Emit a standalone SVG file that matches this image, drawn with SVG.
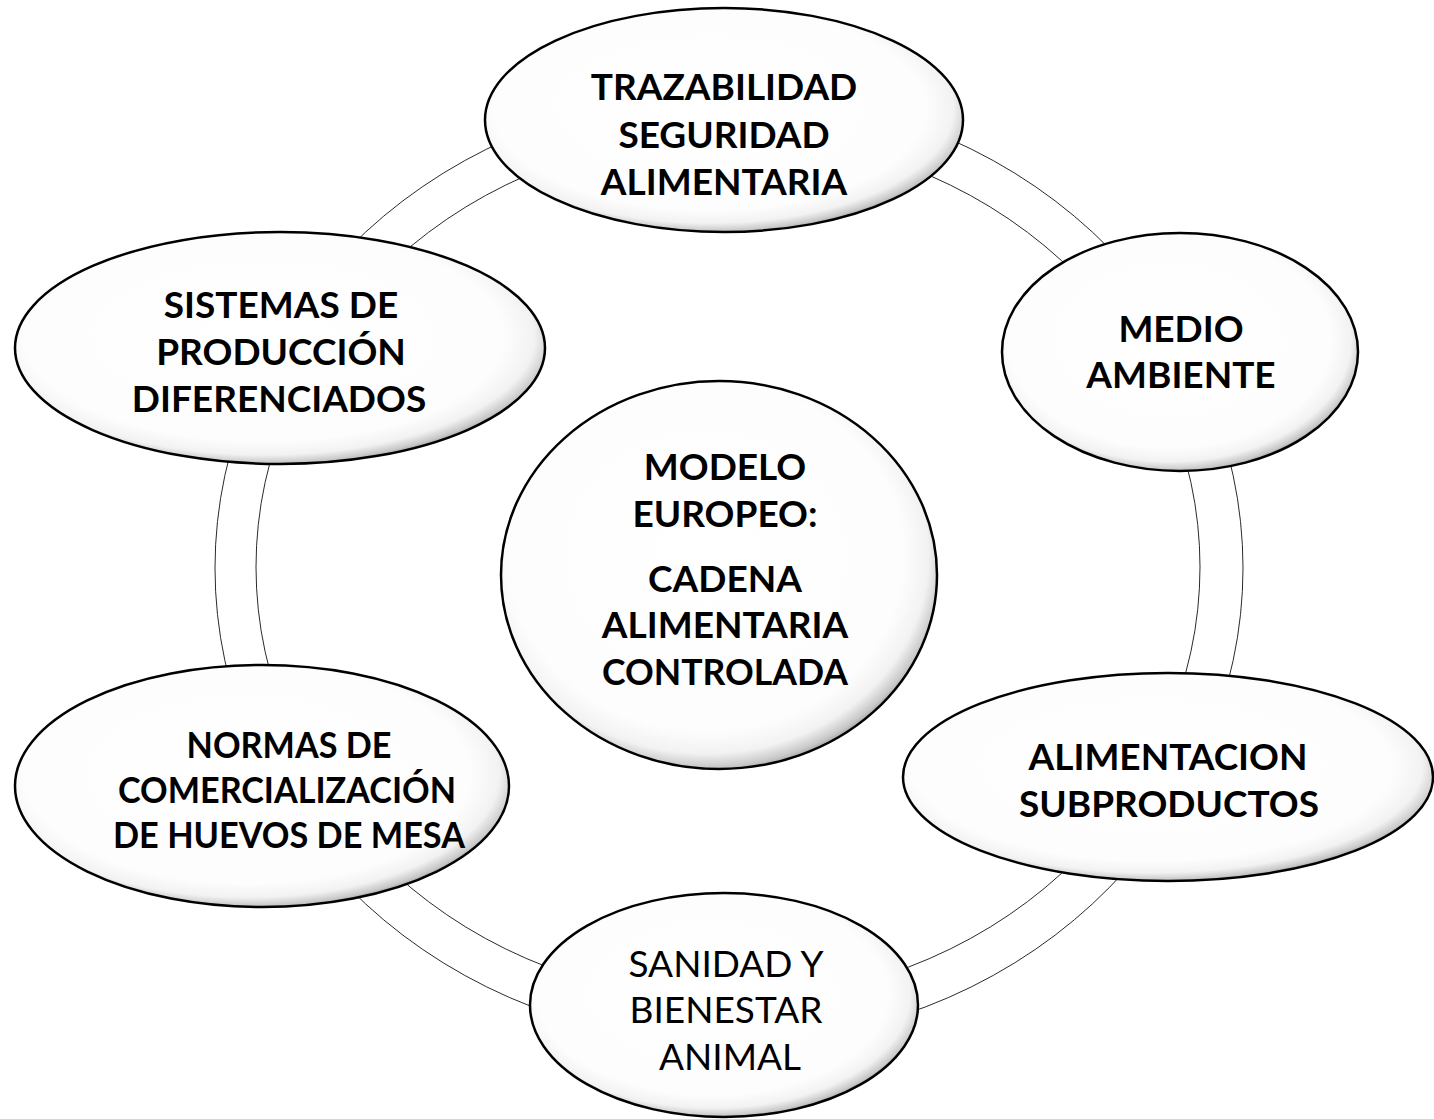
<svg xmlns="http://www.w3.org/2000/svg" width="1434" height="1119" viewBox="0 0 1434 1119">
<style>
.ring{fill:none;stroke:#2a2a2a;stroke-width:1}
.node{fill:url(#shade);stroke:#000;stroke-width:2.5}
.lb{font-family:Lato,"Liberation Sans",sans-serif;font-weight:bold;font-size:37px;text-anchor:middle;fill:#000}
.lr{font-family:Lato,"Liberation Sans",sans-serif;font-weight:normal;font-size:37px;text-anchor:middle;fill:#000}
</style>
<defs>
<radialGradient id="shade" cx="0.47" cy="0.45" r="0.58" fx="0.47" fy="0.45">
<stop offset="0" stop-color="#ffffff"/>
<stop offset="0.78" stop-color="#fdfdfd"/>
<stop offset="0.88" stop-color="#f2f2f2"/>
<stop offset="0.94" stop-color="#c8c8c8"/>
<stop offset="1" stop-color="#707070"/>
</radialGradient>
</defs>
<rect width="1434" height="1119" fill="#fff"/>
<g id="connectors">
<ellipse class="ring" cx="729" cy="568" rx="514" ry="475"/>
<ellipse class="ring" cx="728" cy="567" rx="472" ry="433"/>
</g>
<g id="n1"><ellipse class="node" cx="724" cy="120" rx="239" ry="112"/>
<text class="lb" x="724" y="100">TRAZABILIDAD</text>
<text class="lb" x="724" y="148">SEGURIDAD</text>
<text class="lb" x="724" y="195">ALIMENTARIA</text></g>
<g id="n2"><ellipse class="node" cx="280" cy="348" rx="265" ry="116"/>
<text class="lb" x="281" y="318">SISTEMAS DE</text>
<text class="lb" x="281" y="365">PRODUCCIÓN</text>
<text class="lb" x="279" y="412">DIFERENCIADOS</text></g>
<g id="n3"><ellipse class="node" cx="1180" cy="352" rx="178" ry="119"/>
<text class="lb" x="1181" y="342">MEDIO</text>
<text class="lb" x="1181" y="388">AMBIENTE</text></g>
<g id="n4"><ellipse class="node" cx="719" cy="575" rx="218" ry="194"/>
<text class="lb" x="725" y="480">MODELO</text>
<text class="lb" x="725" y="527">EUROPEO:</text>
<text class="lb" x="725" y="592">CADENA</text>
<text class="lb" x="725" y="638">ALIMENTARIA</text>
<text class="lb" x="725" y="685" textLength="246" lengthAdjust="spacingAndGlyphs">CONTROLADA</text></g>
<g id="n5"><ellipse class="node" cx="262" cy="786" rx="247" ry="121"/>
<text class="lb" x="289" y="758" textLength="205" lengthAdjust="spacingAndGlyphs">NORMAS DE</text>
<text class="lb" x="287" y="803" textLength="338" lengthAdjust="spacingAndGlyphs">COMERCIALIZACIÓN</text>
<text class="lb" x="289" y="848" textLength="352" lengthAdjust="spacingAndGlyphs">DE HUEVOS DE MESA</text></g>
<g id="n6"><ellipse class="node" cx="1168" cy="777" rx="265" ry="104"/>
<text class="lb" x="1168" y="770">ALIMENTACION</text>
<text class="lb" x="1169" y="817">SUBPRODUCTOS</text></g>
<g id="n7"><ellipse class="node" cx="724" cy="1005" rx="194" ry="112"/>
<text class="lr" x="726" y="977">SANIDAD Y</text>
<text class="lr" x="726" y="1023">BIENESTAR</text>
<text class="lr" x="730" y="1070">ANIMAL</text></g>
</svg>
